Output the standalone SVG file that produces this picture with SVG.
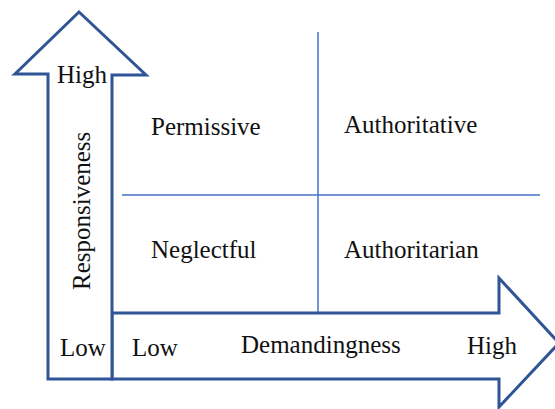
<svg xmlns="http://www.w3.org/2000/svg" width="555" height="409" viewBox="0 0 555 409">
<style>
.arrow{fill:#fff;stroke:#2F5597;stroke-width:3;stroke-linejoin:miter}
.grid{stroke:#4472C4;stroke-width:1.5;fill:none}
text{font-family:"Liberation Serif","Times New Roman",serif;font-size:25px;fill:#111}
</style>
<rect width="555" height="409" fill="#fff"/>
<g id="connectors">
<line class="grid" x1="318" y1="32" x2="318" y2="379"/>
<line class="grid" x1="122" y1="195" x2="540" y2="195"/>
</g>
<g id="demandingness-arrow">
<path class="arrow" d="M112,313 L499,313 L499,278 L559,343 L499,407 L499,379 L112,379 Z"/>
<text x="241" y="353">Demandingness</text>
<text x="132" y="356">Low</text>
<text x="467" y="354">High</text>
</g>
<g id="responsiveness-arrow">
<path class="arrow" d="M48,379 L48,74 L15,74 L79,12 L146,75 L112,75 L112,379 Z"/>
<text x="57" y="83">High</text>
<text x="60" y="356">Low</text>
<text transform="translate(90,290) rotate(-90)">Responsiveness</text>
</g>
<g id="permissive"><text x="151" y="135">Permissive</text></g>
<g id="authoritative"><text x="344" y="133">Authoritative</text></g>
<g id="neglectful"><text x="151" y="258">Neglectful</text></g>
<g id="authoritarian"><text x="344" y="258">Authoritarian</text></g>
</svg>
